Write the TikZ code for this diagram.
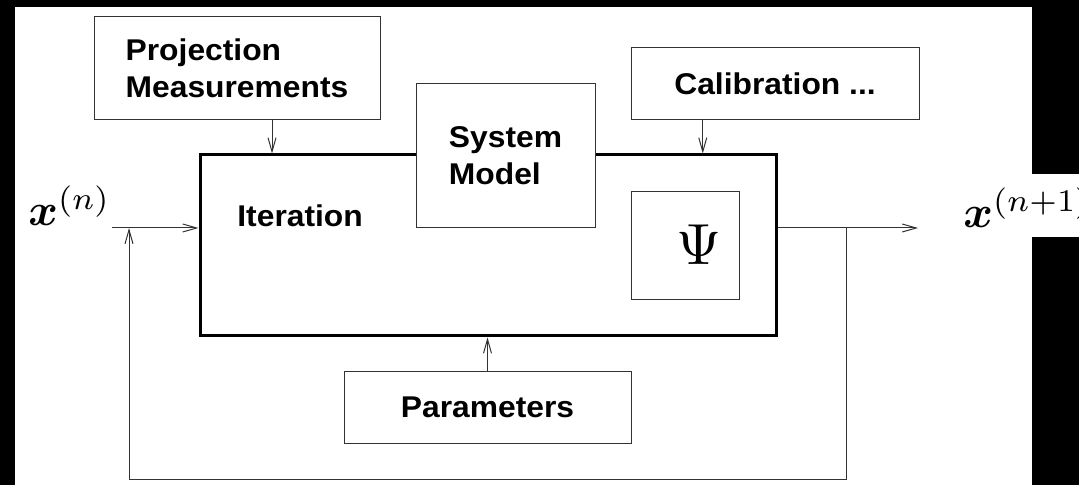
\documentclass[tikz,border=0pt]{standalone}
\usepackage{graphicx}
\usepackage{bm}
\usepackage{fontspec}
\setmainfont[FakeStretch=1.06]{Liberation Sans}
\usetikzlibrary{arrows.meta,calc}
\begin{document}
\begin{tikzpicture}[x=0.5pt,y=-0.5pt,
  box/.style={draw=black!80,line width=0.5pt,fill=white,inner sep=0pt,align=left,
    font=\fontsize{15}{18.5}\selectfont\bfseries},
  mainbox/.style={draw=black,line width=1.5pt,fill=white,inner sep=0pt},
  conn/.style={draw=black!80,line width=0.5pt},
  arr/.style={conn,-{Straight Barb[length=7pt,width=4pt]}},
  lbl/.style={inner sep=0pt,font=\fontsize{15}{18}\selectfont\bfseries},
  mlbl/.style={inner sep=0pt,anchor=base west}
]
\useasboundingbox (0,0) rectangle (1079,485);
\fill[black] (0,0) rectangle (1079,485);
\fill[white] (15,7) rectangle (1032,485);
\fill[white] (1032,174) rectangle (1079,237);

% boxes
\node[box,minimum width=143pt,minimum height=51.5pt] (proj) at (237,68.5) {Projection\\Measurements};
\node[box,minimum width=144pt,minimum height=36pt] (calib) at (775,84) {Calibration ...};
\node[mainbox,minimum width=288pt,minimum height=90.5pt] (main) at (488,245.5) {};
\node[box,minimum width=89.5pt,minimum height=72pt] (sysm) at (505.5,156) {System\\Model};
\node[box,minimum width=54pt,minimum height=54pt] (psibox) at (685,246) {};
\node[inner sep=0pt] (psi) at (699,245) {\scalebox{2.9}{$\Psi$}};
\node[box,minimum width=143.5pt,minimum height=35.5pt] (params) at (487.5,407.5) {Parameters};
\node[lbl,anchor=base west] (iter) at (237,227) {Iteration};

% labels
\node[mlbl] (xn) at (28,226) {\scalebox{2.25}{$\bm{x}^{(n)}$}};
\node[mlbl] (xn1) at (963,228) {\scalebox{2.25}{$\bm{x}^{(n+1)}$}};

% connectors
\coordinate (pa) at ($(proj.south west)!0.622!(proj.south east)$);
\draw[arr] (pa) -- (pa |- main.north);
\coordinate (ca) at ($(calib.south west)!0.25!(calib.south east)$);
\draw[arr] (ca) -- (ca |- main.north);
\draw[arr] (params.north) -- (params.north |- main.south);

\coordinate (in) at (112,228);
\coordinate (out) at (918,228);
\coordinate (fbr) at (846,228);
\coordinate (fbl) at (129,479);
\draw[arr] (in) -- (in -| main.west);
\draw[arr] (out -| main.east) -- (out);
\draw[arr] (fbr) |- (fbl) -- (fbl |- in);
\end{tikzpicture}
\end{document}
